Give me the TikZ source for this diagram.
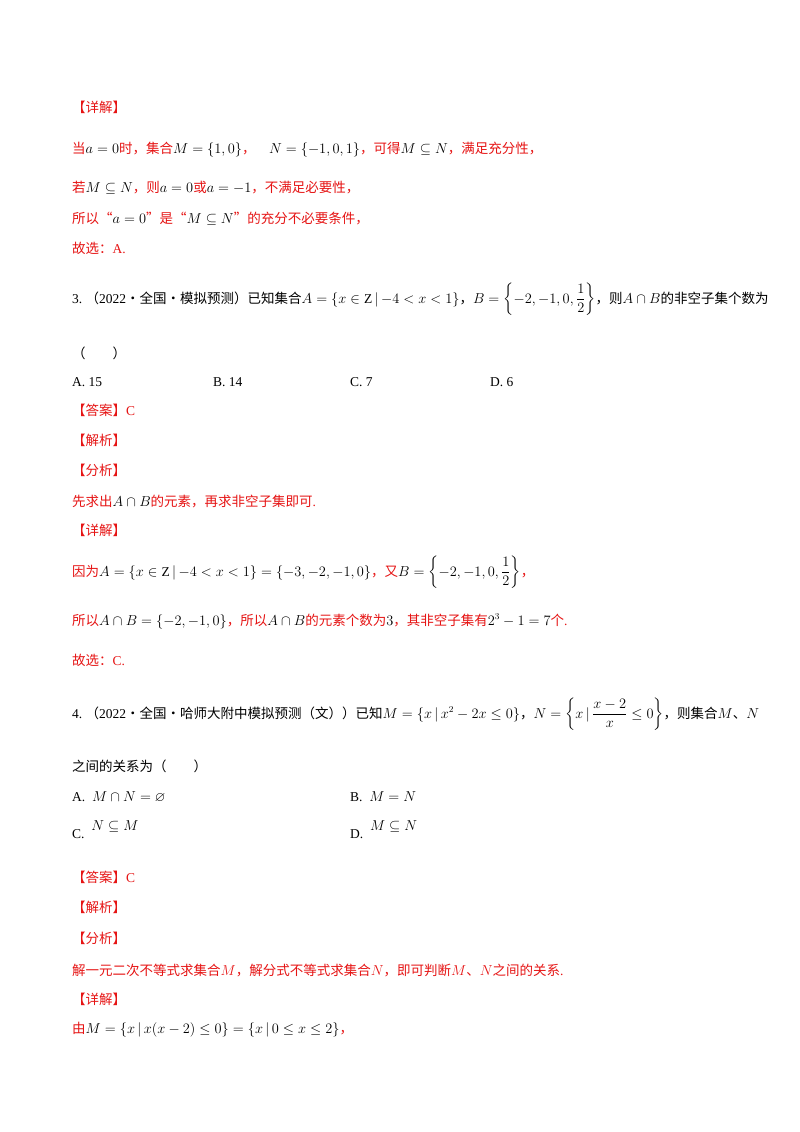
\documentclass[tikz,border=0pt]{standalone}
\usepackage{amsmath,amssymb}
\usepackage{fontspec}
\setmainfont{Liberation Serif}
\newfontfamily\cjk{Noto Sans CJK SC}
\newcommand{\zh}[1]{{\cjk #1}}
\definecolor{ans}{RGB}{230,20,20}
\newcommand{\K}[1]{\textcolor{black}{#1}}
\begin{document}
\begin{tikzpicture}[x=1pt,y=-1pt,
  ln/.style={anchor=base west, inner sep=0pt, font=\fontsize{13.5}{16}\selectfont},
  rl/.style={ln, text=ans}]
\useasboundingbox[fill=white] (0,0) rectangle (800,1132);
\node[rl] (l1) at (72,112) {\zh{【详解】}};
\node[rl] (l2) at (72,153) {\zh{当}\K{$a=0$}\zh{时，集合}\K{$M=\{1,0\}$}\zh{，}\quad\K{$N=\{-1,0,1\}$}\zh{，可得}\K{$M\subseteq N$}\zh{，满足充分性，}};
\node[rl] (l3) at (72,192) {\zh{若}\K{$M\subseteq N$}\zh{，则}\K{$a=0$}\zh{或}\K{$a=-1$}\zh{，不满足必要性，}};
\node[rl] (l4) at (72,223) {\zh{所以“}\K{$a=0$}\zh{”是“}\K{$M\subseteq N$}\zh{”的充分不必要条件，}};
\node[rl] (l5) at (72,253) {\zh{故选：}A.};
\node[ln] (q3) at (72,303) {3.\ \zh{（}2022\zh{·全国·模拟预测）已知集合}$A=\{x\in\mathrm{Z}\,|\,{-4}<x<1\}$\zh{，}$B=\left\{-2,-1,0,\dfrac12\right\}$\zh{，则}$A\cap B$\zh{的非空子集个数为}};
\node[ln] (q3b) at (72,358) {\zh{（\qquad）}};
\node[ln] (o3a) at (72,386) {A.\ 15};
\node[ln] (o3b) at (213,386) {B.\ 14};
\node[ln] (o3c) at (350,386) {C.\ 7};
\node[ln] (o3d) at (490,386) {D.\ 6};
\node[rl] (a3) at (72,415) {\zh{【答案】}C};
\node[rl] (j3) at (72,445) {\zh{【解析】}};
\node[rl] (f3) at (72,475) {\zh{【分析】}};
\node[rl] (f3t) at (72,506) {\zh{先求出}\K{$A\cap B$}\zh{的元素，再求非空子集即可}.};
\node[rl] (x3) at (72,535) {\zh{【详解】}};
\node[rl] (x3a) at (72,576) {\zh{因为}\K{$A=\{x\in\mathrm{Z}\,|\,{-4}<x<1\}=\{-3,-2,-1,0\}$}\zh{，又}\K{$B=\left\{-2,-1,0,\dfrac12\right\}$}\zh{，}};
\node[rl] (x3b) at (72,625) {\zh{所以}\K{$A\cap B=\{-2,-1,0\}$}\zh{，所以}\K{$A\cap B$}\zh{的元素个数为}\K{$3$}\zh{，其非空子集有}\K{$2^3-1=7$}\zh{个}.};
\node[rl] (x3c) at (72,665) {\zh{故选：}C.};
\node[ln] (q4) at (72,718) {4.\ \zh{（}2022\zh{·全国·哈师大附中模拟预测（文））已知}$M=\{x\,|\,x^2-2x\le0\}$\zh{，}$N=\left\{x\,|\,\dfrac{x-2}{x}\le0\right\}$\zh{，则集合}$M$\zh{、}$N$};
\node[ln] (q4b) at (72,771) {\zh{之间的关系为（\qquad）}};
\node[ln] (o4a) at (72,801) {A.\ \ $M\cap N=\varnothing$};
\node[ln] (o4b) at (350,801) {B.\ \ $M=N$};
\node[ln] (o4c) at (72,838) {C.\ \ \raisebox{8pt}{$N\subseteq M$}};
\node[ln] (o4d) at (350,838) {D.\ \ \raisebox{8pt}{$M\subseteq N$}};
\node[rl] (a4) at (72,882) {\zh{【答案】}C};
\node[rl] (j4) at (72,912) {\zh{【解析】}};
\node[rl] (f4) at (72,943) {\zh{【分析】}};
\node[rl] (f4t) at (72,975) {\zh{解一元二次不等式求集合}$M$\zh{，解分式不等式求集合}$N$\zh{，即可判断}$M$\zh{、}$N$\zh{之间的关系}.};
\node[rl] (x4) at (72,1004) {\zh{【详解】}};
\node[rl] (x4a) at (72,1033) {\zh{由}\K{$M=\{x\,|\,x(x-2)\le0\}=\{x\,|\,0\le x\le2\}$}\zh{，}};
\end{tikzpicture}
\end{document}
